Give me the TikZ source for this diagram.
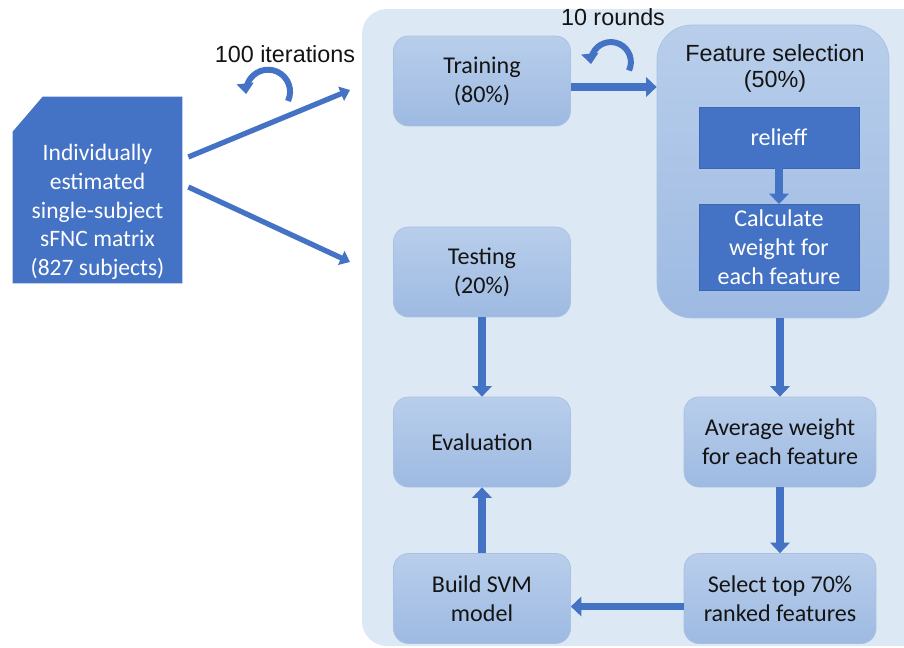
\documentclass[tikz,border=0pt]{standalone}
\usepackage{fontspec}
\setmainfont{Carlito}
\newfontfamily\arialfont{Liberation Sans}
\usetikzlibrary{arrows.meta}

\definecolor{panelblue}{HTML}{DDE8F5}
\definecolor{boxtop}{HTML}{B8CEEB}
\definecolor{boxbottom}{HTML}{9EBAE2}
\definecolor{boxedge}{HTML}{A7C0E3}
\definecolor{darkblue}{HTML}{4472C4}
\definecolor{darkedge}{HTML}{3E66B0}
\definecolor{textgray}{HTML}{141414}

\begin{document}
\begin{tikzpicture}[x=0.02cm, y=-0.02cm]
	\tikzstyle{stage}=[rectangle, rounded corners=0.3cm, draw=boxedge, top color=boxtop, bottom color=boxbottom, text=textgray, align=center, minimum width=3.54cm, minimum height=1.8cm, font=\fontsize{13.7}{16.4}\selectfont]
	\tikzstyle{selbox}=[rectangle, rounded corners=0.7cm, draw=boxedge, top color=boxtop, bottom color=boxbottom, minimum width=4.64cm, minimum height=5.86cm]
	\tikzstyle{inner}=[rectangle, draw=darkedge, fill=darkblue, text=white, align=center, minimum width=3.2cm, minimum height=1.22cm, font=\fontsize{13.7}{16.4}\selectfont]
	\tikzstyle{docbox}=[rectangle, minimum width=3.38cm, minimum height=3.72cm, inner sep=0pt]
	\tikzstyle{doctext}=[text=white, align=center, font=\fontsize{13.4}{16.4}\selectfont]
	\tikzstyle{note}=[text=textgray, align=center, font=\arialfont\fontsize{13.3}{15.3}\selectfont]
	\tikzstyle{flow}=[draw=darkblue, line width=4.5pt, -{Triangle[width=11pt, length=6pt]}]
	\tikzstyle{feed}=[draw=darkblue, line width=3pt, -{Triangle[width=8.5pt, length=5.5pt]}]
	\tikzstyle{repeatarrow}=[draw=darkblue, line width=3.4pt, -{Triangle[width=9.5pt, length=6pt]}]

	\useasboundingbox (0, 0) rectangle (904, 647);

	% Background panel
	\begin{scope}
		\clip (0, 0) rectangle (904, 647);
		\fill[panelblue, rounded corners=0.5cm] (362, 9) rectangle (940, 646);
	\end{scope}

	% Input
	\node at (97.5, 190) [docbox] (doc) {};
	\fill[darkblue] (doc.south west) -- ([yshift=-0.7cm]doc.north west) -- ([xshift=0.6cm]doc.north west) -- (doc.north east) -- (doc.south east) -- cycle;
	\node at (97.5, 212) [doctext] (doclabel) {Individually\\estimated\\single-subject\\sFNC matrix\\(827 subjects)};

	% Left column
	\node at (482, 81) [stage] (train) {Training\\(80\%)};
	\node at (482, 272) [stage] (test) {Testing\\(20\%)};
	\node at (482, 442) [stage] (eval) {Evaluation};
	\node at (482, 598.5) [stage] (svm) {Build SVM\\model};

	% Feature selection
	\node at (773, 171.5) [selbox] (fs) {};
	\node at (775, 68.5) [note] (fstitle) {Feature selection\\(50\%)};
	\node at (779, 137.5) [inner] (relieff) {relieff};
	\node at (779, 247.5) [inner, minimum height=1.7cm] (calc) {Calculate\\weight for\\each feature};

	% Right column
	\node at (780, 442) [stage, minimum width=3.84cm] (avg) {Average weight\\for each feature};
	\node at (780, 598.5) [stage, minimum width=3.84cm] (select) {Select top 70\%\\ranked features};

	% Loop labels
	\node at (285, 54) [note] (iterlabel) {100 iterations};
	\node at (613, 17) [note] (roundlabel) {10 rounds};
	\draw[repeatarrow] (288, 101) arc[start angle=-25, end angle=186, radius=0.44cm];
	\draw[repeatarrow] (629, 70.5) arc[start angle=-25, end angle=186, radius=0.4cm];

	% Connectors
	\coordinate (trainin) at (350, 90);
	\coordinate (testin) at (350, 262);
	\draw[feed] ([shift={(6,-33)}]doc.east) -- (trainin);
	\draw[feed] ([shift={(6,-3)}]doc.east) -- (testin);
	\draw[flow] ([yshift=-0.12cm]train.east) -- ([yshift=-0.12cm]fs.west |- train.east);
	\draw[flow] (relieff) -- (calc);
	\draw[flow] (fs.south -| avg.north) -- (avg.north);
	\draw[flow] (avg) -- (select);
	\draw[flow] ([yshift=-0.16cm]select.west) -- ([yshift=-0.16cm]svm.east);
	\draw[flow] (svm) -- (eval);
	\draw[flow] (test) -- (eval);
\end{tikzpicture}
\end{document}
